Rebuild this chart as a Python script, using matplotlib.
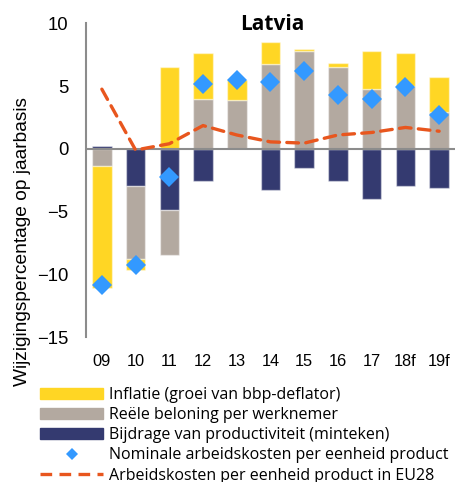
import numpy as np
import matplotlib
matplotlib.use('Agg')
import matplotlib.pyplot as plt
from matplotlib.patches import Patch
from matplotlib.lines import Line2D

# Latvia: decomposition of nominal unit labour cost growth (% y-o-y)
years = ['09', '10', '11', '12', '13', '14', '15', '16', '17', '18f', '19f']
productivity = [0.2, -3.0, -4.85, -2.55, 0.0, -3.25, -1.5, -2.55, -4.0, -2.95, -3.1]
real_comp = [-1.4, -5.8, -3.65, 4.0, 3.85, 6.75, 7.8, 6.5, 4.75, 5.0, 2.95]
inflation = [-9.7, -0.85, 6.5, 3.65, 1.65, 1.75, 0.15, 0.3, 3.05, 2.65, 2.8]
ulc_nominal = [-10.85, -9.25, -2.25, 5.15, 5.5, 5.3, 6.2, 4.3, 4.0, 4.9, 2.7]
ulc_eu28 = [4.75, -0.1, 0.4, 1.85, 1.1, 0.55, 0.45, 1.1, 1.3, 1.7, 1.4]

labels = ['Inflatie (groei van bbp-deflator)',
          'Reële beloning per werknemer',
          'Bijdrage van productiviteit (minteken)',
          'Nominale arbeidskosten per eenheid product',
          'Arbeidskosten per eenheid product in EU28']

c_infl = '#FFD624'
c_real = '#B3A9A0'
c_prod = '#343A70'
c_ulc = '#3399FF'
c_eu = '#E8561E'
c_axis = '#8C8C8C'


def main():
    fig = plt.figure(figsize=(4.56, 4.82), dpi=100)
    ax = fig.add_axes([86 / 456, 1 - 337 / 482, 370 / 456, (337 - 23.3) / 482])

    x = np.arange(len(years))
    width = 0.58
    pos_base = np.zeros(len(years))
    neg_base = np.zeros(len(years))
    # Excel-style stacking: positives and negatives grow away from zero separately
    for vals, col in [(productivity, c_prod), (real_comp, c_real), (inflation, c_infl)]:
        vals = np.array(vals)
        bottom = np.where(vals >= 0, pos_base, neg_base)
        ax.bar(x, vals, width, bottom=bottom, color=col,
               edgecolor=(1, 1, 1, 0.45), linewidth=1.0, zorder=2)
        pos_base += np.where(vals >= 0, vals, 0)
        neg_base += np.where(vals < 0, vals, 0)

    ax.axhline(0, color=c_axis, lw=1.5, zorder=3)
    ax.plot(x, ulc_eu28, color=c_eu, lw=2.4, dashes=(3.5, 2.2),
            solid_capstyle='round', dash_capstyle='round', zorder=4)
    ax.plot(x, ulc_nominal, 'D', color=c_ulc, markersize=10, markeredgewidth=0, zorder=5)

    ax.set_xlim(-0.47, 10.5)
    ax.set_ylim(-15, 10)
    ax.set_yticks([10, 5, 0, -5, -10, -15])
    ax.set_xticks(x)
    ax.set_xticklabels(years)
    for s in ['top', 'right', 'bottom']:
        ax.spines[s].set_visible(False)
    ax.spines['left'].set_color(c_axis)
    ax.spines['left'].set_linewidth(1.5)
    ax.tick_params(axis='y', length=0, pad=12.5, labelsize=13.3)
    ax.tick_params(axis='x', length=0, pad=12, labelsize=11.8)
    for t in ax.get_xticklabels() + ax.get_yticklabels():
        t.set_family('Liberation Sans')

    ax.text(272.5 / 456, 1 - 24.5 / 482, 'Latvia', transform=fig.transFigure,
            ha='center', va='center', fontsize=15, fontweight='bold', family='Open Sans')
    fig.text(23 / 456, 1 - 242 / 482, 'Wijzigingspercentage op jaarbasis', rotation=90,
             ha='center', va='center', fontsize=13.8, family='Liberation Sans')

    handles = [Patch(color=c_infl), Patch(color=c_real), Patch(color=c_prod),
               Line2D([], [], ls='none', marker='D', color=c_ulc, markersize=6, markeredgewidth=0),
               Line2D([], [], color=c_eu, lw=2.4, dashes=(3.5, 2.2))]
    fig.legend(handles, labels, loc='upper left', bbox_to_anchor=(40 / 456, 1 - 387 / 482),
               frameon=False, borderpad=0, borderaxespad=0, handlelength=3.95,
               handleheight=0.72, handletextpad=0.38, labelspacing=0.26,
               prop={'family': 'Open Sans', 'size': 11.5})

    plt.savefig('out.png', dpi=100)


if __name__ == '__main__':
    main()
